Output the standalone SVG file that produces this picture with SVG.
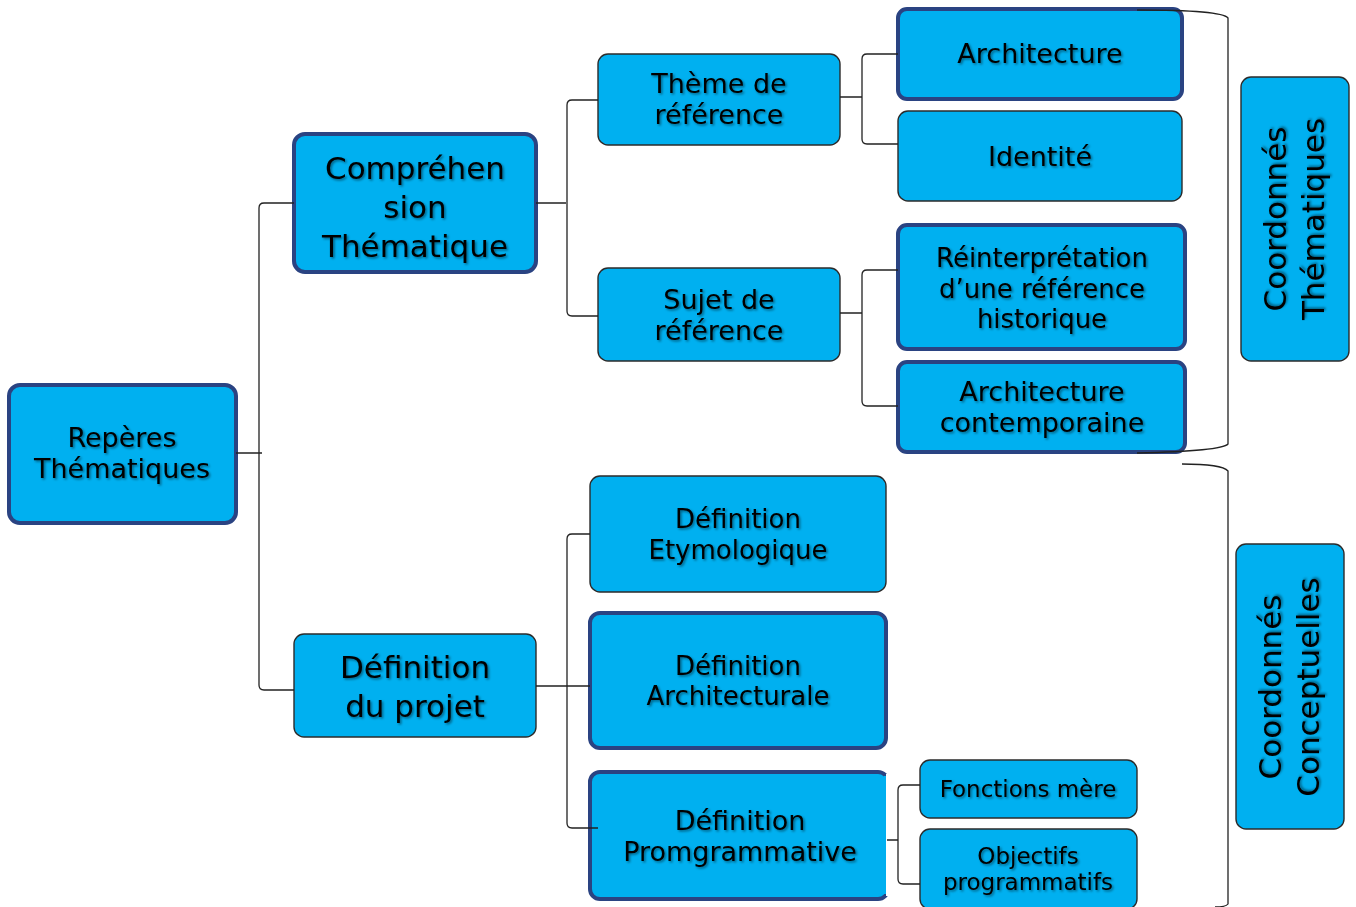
<svg xmlns="http://www.w3.org/2000/svg" width="1356" height="907" viewBox="0 0 1356 907">
<defs>
<filter id="ts" x="-10%" y="-30%" width="120%" height="160%">
<feDropShadow dx="1.5" dy="1.5" stdDeviation="1" flood-color="#000" flood-opacity="0.45"/>
</filter>
</defs>
<style>
.box{fill:#00B0F0;stroke:#2b2b2b;stroke-width:1.4}
.thick{fill:#00B0F0;stroke:#2A4382;stroke-width:4}
text{font-family:"DejaVu Sans","Liberation Sans",sans-serif;fill:#000;text-anchor:middle;filter:url(#ts)}
.s31{font-size:31px}
.s27{font-size:27px}
.s26{font-size:26px}
.s23{font-size:23px}
.con{fill:none;stroke:#222;stroke-width:1.3}
</style>
<g id="n1"><rect class="thick" x="9" y="385" width="227" height="138" rx="11"/>
<text class="s27" x="122" y="447">Repères</text><text class="s27" x="122" y="478">Thématiques</text></g>
<g id="n2"><rect class="thick" x="294" y="134" width="242" height="138" rx="11"/>
<text class="s31" x="415" y="179">Compréhen</text><text class="s31" x="415" y="218">sion</text><text class="s31" x="415" y="257">Thématique</text></g>
<g id="n3"><rect class="box" x="294" y="634" width="242" height="103" rx="10"/>
<text class="s31" x="415" y="678">Définition</text><text class="s31" x="415" y="717">du projet</text></g>
<g id="n4"><rect class="box" x="598" y="54" width="242" height="91" rx="10"/>
<text class="s27" x="719" y="93">Thème de</text><text class="s27" x="719" y="124">référence</text></g>
<g id="n5"><rect class="box" x="598" y="268" width="242" height="93" rx="10"/>
<text class="s27" x="719" y="309">Sujet de</text><text class="s27" x="719" y="340">référence</text></g>
<g id="n6"><rect class="thick" x="898" y="9" width="284" height="90" rx="9"/>
<text class="s27" x="1040" y="63">Architecture</text></g>
<g id="n7"><rect class="box" x="898" y="111" width="284" height="90" rx="10"/>
<text class="s27" x="1040" y="166">Identité</text></g>
<g id="n8"><rect class="thick" x="898" y="225" width="287" height="124" rx="9"/>
<text class="s26" x="1042" y="267">Réinterprétation</text><text class="s26" x="1042" y="298">d’une référence</text><text class="s26" x="1042" y="328">historique</text></g>
<g id="n9"><rect class="thick" x="898" y="362" width="287" height="90" rx="9"/>
<text class="s27" x="1042" y="401">Architecture</text><text class="s27" x="1042" y="432">contemporaine</text></g>
<g id="n10"><rect class="box" x="590" y="476" width="296" height="116" rx="10"/>
<text class="s26" x="738" y="528">Définition</text><text class="s26" x="738" y="559">Etymologique</text></g>
<g id="n11"><rect class="thick" x="590" y="613" width="296" height="135" rx="10"/>
<text class="s26" x="738" y="675">Définition</text><text class="s26" x="738" y="705">Architecturale</text></g>
<g id="n12"><rect class="thick" x="590" y="772" width="298" height="127" rx="10"/>
<rect x="884" y="776" width="3" height="118" fill="#00B0F0"/>
<rect x="886" y="774" width="5" height="122" fill="#fff"/>
<text class="s27" x="740" y="830">Définition</text><text class="s27" x="740" y="861">Promgrammative</text></g>
<g id="n13"><rect class="box" x="920" y="760" width="217" height="58" rx="10"/>
<text class="s23" x="1028" y="797">Fonctions mère</text></g>
<g id="n14"><rect class="box" x="920" y="829" width="217" height="80" rx="10"/>
<text class="s23" x="1028" y="864">Objectifs</text><text class="s23" x="1028" y="890">programmatifs</text></g>
<g id="n15"><rect class="box" x="1241" y="77" width="108" height="284" rx="10"/>
<text class="s31" transform="translate(1286,219) rotate(-90)">Coordonnés</text>
<text class="s31" transform="translate(1324,219) rotate(-90)">Thématiques</text></g>
<g id="n16"><rect class="box" x="1236" y="544" width="108" height="285" rx="10"/>
<text class="s31" transform="translate(1281,687) rotate(-90)">Coordonnés</text>
<text class="s31" transform="translate(1319,687) rotate(-90)">Conceptuelles</text></g>
<g id="connectors">
<path class="con" d="M236,453 H262 M294,203 H264 Q259,203 259,208 V685 Q259,690 264,690 H294"/>
<path class="con" d="M536,203 H566 M598,100 H572 Q567,100 567,105 V311 Q567,316 572,316 H598"/>
<path class="con" d="M840,97 H862 M898,54 H867 Q862,54 862,59 V139 Q862,144 867,144 H898"/>
<path class="con" d="M840,313 H862 M898,270 H867 Q862,270 862,275 V401 Q862,406 867,406 H898"/>
<path class="con" d="M536,686 H590 M590,534 H572 Q567,534 567,539 V823 Q567,828 572,828 H598"/>
<path class="con" d="M887,840 H898 M920,785 H903 Q898,785 898,790 V879 Q898,884 903,884 H920"/>
<path class="con" d="M1137,10 Q1222,10 1228,18 V444 Q1222,451 1137,453"/>
<path class="con" d="M1182,464 Q1222,464 1228,471 V904 Q1226,907 1215,907"/>
</g>
</svg>
